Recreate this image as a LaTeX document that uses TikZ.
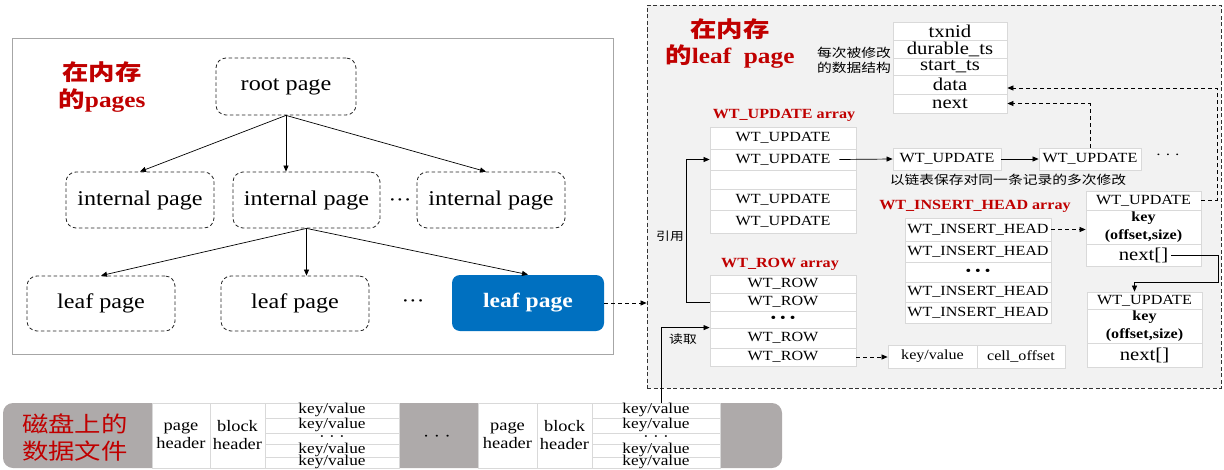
\documentclass[tikz,border=0pt]{standalone}
\usepackage{fontspec}
\setmainfont{Liberation Serif}[FakeStretch=1.15]
\newfontfamily\cjk{Noto Sans CJK SC}[FakeStretch=1.2]
\usetikzlibrary{arrows.meta,calc}
\definecolor{myred}{HTML}{C00000}
\definecolor{myblue}{HTML}{0070C0}
\definecolor{panelgray}{HTML}{F2F2F2}
\definecolor{cellline}{HTML}{D9D9D9}
\definecolor{diskgray}{HTML}{AEAAAA}
\definecolor{framegray}{HTML}{A6A6A6}
\newcommand\mycell[7][]{%
  \node[cellbox,minimum width={(#5-#3)*1pt},minimum height={(#6-#4)*1pt},#1] (#2) at ({(#3+#5)/2},{(#4+#6)/2}) {#7};}
\tikzset{
  cellbox/.style={draw=cellline, line width=0.8pt, fill=white, inner sep=0pt, align=center},
  treebox/.style={draw=black!85, line width=0.8pt, dash pattern=on 3.5pt off 2.5pt, rounded corners=10pt, fill=white, font=\fontsize{21}{24}\selectfont},
  bluebox/.style={draw=none, fill=myblue, text=white, rounded corners=8pt, font=\bfseries\fontsize{20.5}{24}\selectfont},
  panelbox/.style={draw=framegray, line width=0.9pt, fill=white},
  rpanelbox/.style={draw=black!80, line width=0.8pt, dash pattern=on 4pt off 2.5pt, fill=panelgray},
  diskbox/.style={draw=none, fill=diskgray, rounded corners=10pt},
  arr/.style={-{Triangle[length=6pt,width=5pt]}, line width=0.7pt, black},
  darr/.style={arr, dash pattern=on 4pt off 3pt},
  redtitle/.style={text=myred, align=center, inner sep=0pt, font=\bfseries\fontsize{22}{27}\selectfont},
  redlbl/.style={text=myred, inner sep=0pt, font=\bfseries\fontsize{14}{16}\selectfont},
  cjksmall/.style={inner sep=0pt, align=center, font=\cjk\fontsize{12.3}{15}\selectfont},
  t13/.style={font=\fontsize{14}{16}\selectfont},
  t13b/.style={font=\bfseries\fontsize{14}{18}\selectfont},
  t18/.style={font=\fontsize{18}{20}\selectfont},
  t16/.style={font=\fontsize{16}{18}\selectfont},
  t16s/.style={font=\fontsize{15}{15}\selectfont, text height=5pt, text depth=0pt},
  dotsf/.style={inner sep=0pt, font=\fontsize{20}{24}\selectfont}
}
\begin{document}
\begin{tikzpicture}[x=1pt,y=-1pt]
\useasboundingbox (0,0) rectangle (1224,469);

% ---------- left panel: tree of pages ----------
\mycell[panelbox]{lpanel}{12}{38}{613}{354}{}
\node[redtitle] (lt) at (102,87) {{\cjk 在内存}\\{\cjk 的}pages};
\mycell[treebox]{root}{216}{58}{356}{115}{root page}
\mycell[treebox]{int1}{66}{172}{214}{228}{internal page}
\mycell[treebox]{int2}{233}{172}{380}{228}{internal page}
\mycell[treebox]{int3}{417}{172}{565}{228}{internal page}
\mycell[treebox]{leaf1}{27}{276}{175}{331}{leaf page}
\mycell[treebox]{leaf2}{221}{276}{369}{331}{leaf page}
\mycell[bluebox]{leaf3}{452}{275}{604}{331}{leaf page}
\node[dotsf] (dots1) at (400,203) {···};
\node[dotsf] (dots2) at (413,304) {···};
\draw[arr] (root.south) -- (int1.north);
\draw[arr] (root.south) -- (root.south |- int2.north);
\draw[arr] (root.south) -- ([xshift=-5pt]int3.north);
\draw[arr] (int2.south) -- (leaf1.north);
\draw[arr] (int2.south) -- (int2.south |- leaf2.north);
\draw[arr] (int2.south) -- (leaf3.north);

% ---------- right panel: leaf page in memory ----------
\mycell[rpanelbox]{rpanel}{647}{5}{1221}{388}{}
\draw[darr] (leaf3.east) -- (leaf3.east -| rpanel.west);
\node[redtitle, font=\bfseries\fontsize{22}{26}\selectfont] (rt) at (730,44) {{\cjk 在内存}\\{\cjk 的}leaf\ \ page};
\node[cjksmall] (sl) at (854,60) {每次被修改\\的数据结构};
\mycell[t18]{stx}{893}{22}{1007}{40}{txnid}
\mycell[t18]{sdur}{893}{40}{1007}{58}{durable\_ts}
\mycell[t18]{sst}{893}{58}{1007}{75}{start\_ts}
\mycell[t18]{sdata}{893}{75}{1007}{94}{data}
\mycell[t18]{snext}{893}{94}{1007}{113}{next}

% WT_UPDATE array
\node[redlbl] (lu) at (784,115) {WT\_UPDATE array};
\mycell[t13]{wu1}{710}{127}{856}{149}{WT\_UPDATE}
\mycell[t13]{wu2}{710}{149}{856}{170}{WT\_UPDATE}
\mycell[t13]{wu3}{710}{170}{856}{189}{}
\mycell[t13]{wu4}{710}{189}{856}{210}{WT\_UPDATE}
\mycell[t13]{wu5}{710}{210}{856}{233}{WT\_UPDATE}

% update chain
\mycell[t13]{u1}{893}{148}{1001}{170}{WT\_UPDATE}
\mycell[t13]{u2}{1039}{148}{1141}{170}{WT\_UPDATE}
\node[t13] (udots) at (1168,157) {· · ·};
\draw[arr] ([xshift=-17pt]wu2.east) -- (u1.west);
\draw[arr] (u1.east) -- (u2.west);
\node[cjksmall] (cap) at (1008,180) {以链表保存对同一条记录的多次修改};
\draw[darr] (u2.north) |- (snext.east);

% WT_INSERT_HEAD array
\node[redlbl] (li) at (975,206) {WT\_INSERT\_HEAD array};
\mycell[t13]{ih1}{905}{218}{1051}{241}{WT\_INSERT\_HEAD}
\mycell[t13]{ih2}{905}{241}{1051}{262}{WT\_INSERT\_HEAD}
\mycell[t13]{ih3}{905}{262}{1051}{282}{• • •}
\mycell[t13]{ih4}{905}{282}{1051}{302}{WT\_INSERT\_HEAD}
\mycell[t13]{ih5}{905}{302}{1051}{323}{WT\_INSERT\_HEAD}

% skip-list WT_UPDATE nodes
\mycell[t13]{n1u}{1086}{191}{1201}{210}{WT\_UPDATE}
\mycell[t13b]{n1k}{1086}{210}{1201}{244}{key\\(offset,size)}
\mycell[t18]{n1n}{1086}{244}{1201}{266}{next[]}
\mycell[t13]{n2u}{1087}{292}{1202}{309}{WT\_UPDATE}
\mycell[t13b]{n2k}{1087}{309}{1202}{343}{key\\(offset,size)}
\mycell[t18]{n2n}{1087}{343}{1202}{367}{next[]}
\draw[darr] (ih1.east) -- (ih1.east -| n1k.west);
\coordinate (rtop) at (1217,88);
\draw[darr] (n1u.east) -| (rtop) -- (rtop -| sdata.east);
\coordinate (nturn) at (1218,282);
\draw[arr] ([xshift=-30pt]n1n.east) -| (nturn) -| ([xshift=-10pt]n2u.north);

% WT_ROW array
\node[redlbl] (lr) at (780,264) {WT\_ROW array};
\mycell[t13]{wr1}{710}{275}{856}{293}{WT\_ROW}
\mycell[t13]{wr2}{710}{293}{856}{311}{WT\_ROW}
\mycell[t13]{wr3}{710}{311}{856}{328}{• • •}
\mycell[t13]{wr4}{710}{328}{856}{348}{WT\_ROW}
\mycell[t13]{wr5}{710}{348}{856}{366}{WT\_ROW}
\mycell[t13]{kv}{888}{345}{977}{368}{key/value}
\mycell[t13]{co}{977}{345}{1065}{368}{cell\_offset}
\draw[darr] (wr5.east) -- (wr5.east -| kv.west);
\draw[arr] (wr2.west) -- ++(-23,0) |- (wu2.west);
\node[cjksmall, font=\cjk\fontsize{11.5}{14}\selectfont] (yy) at (670,236) {引用};

% ---------- disk file strip ----------
\mycell[diskbox]{disk}{3}{403}{782}{468}{}
\node[text=myred, align=center, inner sep=0pt, font=\cjk\fontsize{22}{27}\selectfont] (dl) at (75,438) {磁盘上的\\数据文件};
\mycell[t16]{ph1}{152}{403}{210}{468}{page\\header}
\mycell[t16]{bh1}{210}{403}{265}{468}{block\\header}
\mycell[t16s]{kv1a}{265}{403}{399}{418}{key/value}
\mycell[t16s]{kv1b}{265}{418}{399}{433}{key/value}
\mycell[t16s]{kv1c}{265}{433}{399}{444}{· · ·}
\mycell[t16s]{kv1d}{265}{444}{399}{457}{key/value}
\mycell[t16s]{kv1e}{265}{457}{399}{468}{key/value}
\node[t16] (ddots) at (437,438) {· · ·};
\mycell[t16]{ph2}{478}{403}{537}{468}{page\\header}
\mycell[t16]{bh2}{537}{403}{592}{468}{block\\header}
\mycell[t16s]{kv2a}{592}{403}{720}{418}{key/value}
\mycell[t16s]{kv2b}{592}{418}{720}{433}{key/value}
\mycell[t16s]{kv2c}{592}{433}{720}{444}{· · ·}
\mycell[t16s]{kv2d}{592}{444}{720}{457}{key/value}
\mycell[t16s]{kv2e}{592}{457}{720}{468}{key/value}
\draw[arr] ([xshift=5pt]kv2a.north) |- (wr4.north west);
\node[cjksmall, font=\cjk\fontsize{11.5}{14}\selectfont] (dq) at (683,339) {读取};
\end{tikzpicture}
\end{document}
